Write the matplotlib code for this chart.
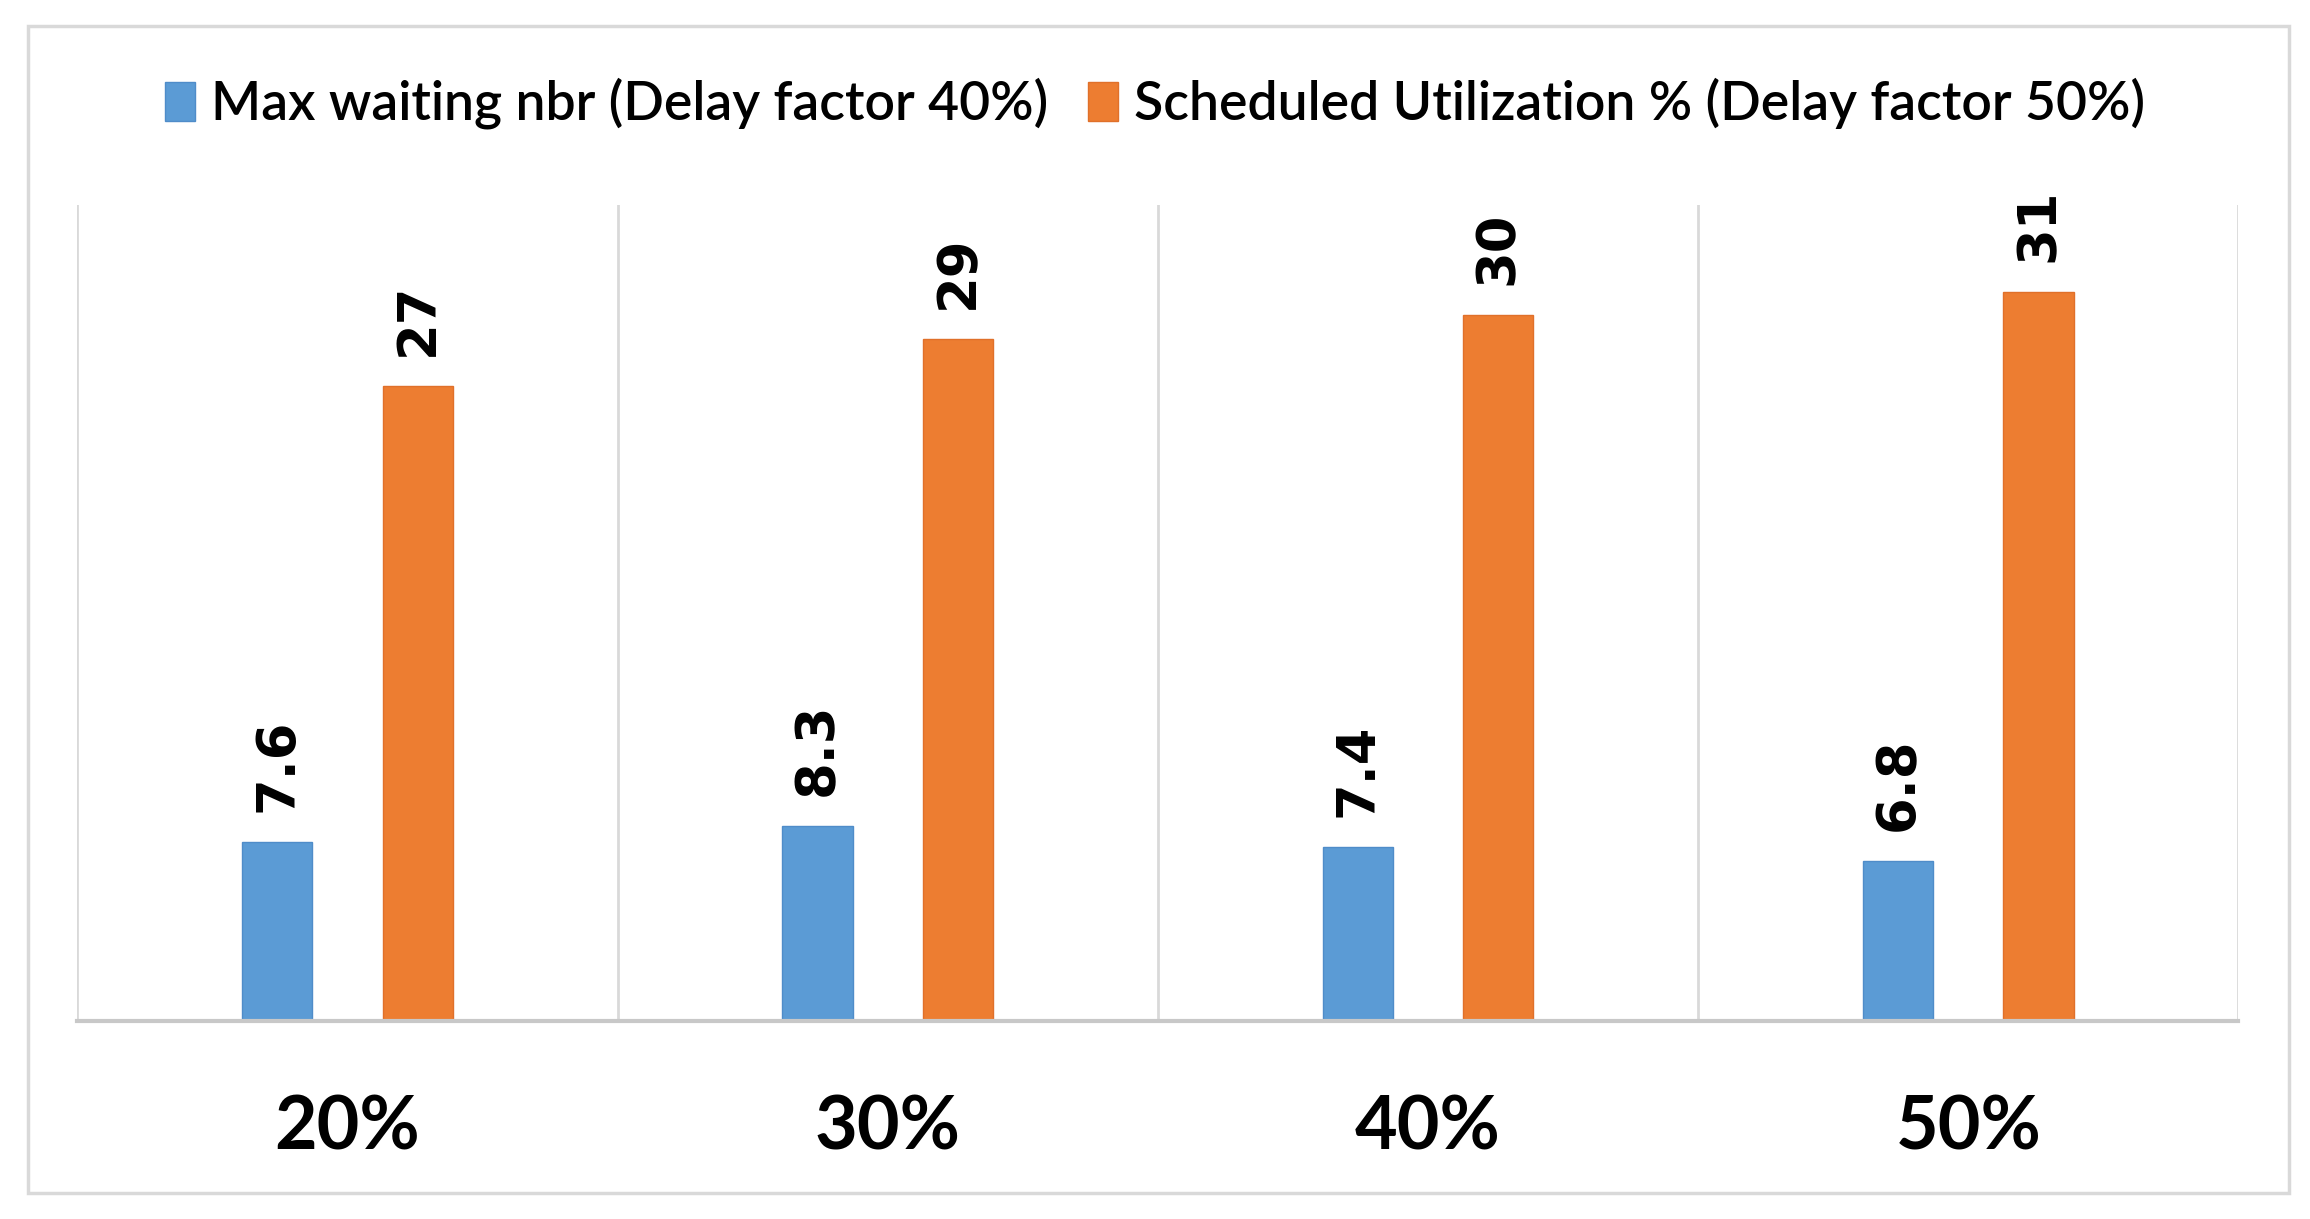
import matplotlib.pyplot as plt
import matplotlib as mpl
import numpy as np
from matplotlib.patches import Rectangle

categories = ['20%', '30%', '40%', '50%']
max_waiting = [7.6, 8.3, 7.4, 6.8]
sched_util = [27, 29, 30, 31]
labels = ['Max waiting nbr (Delay factor 40%)', 'Scheduled Utilization % (Delay factor 50%)']

blue = '#5B9BD5'
orange = '#ED7D31'

fig = plt.figure(figsize=(23.1, 12.19), dpi=100)
# outer chart border
fig.patches.append(Rectangle((0.012, 0.021), 0.979, 0.958, transform=fig.transFigure,
                             fill=False, edgecolor='#D9D9D9', linewidth=2.5))

ax = fig.add_axes([0.0335, 0.1624, 0.9355, 0.6696])
x = np.arange(len(categories))
w = 0.13
b1 = ax.bar(x - 0.13, max_waiting, w, color=blue, edgecolor='#4F8CC9', linewidth=1, label=labels[0])
b2 = ax.bar(x + 0.13, sched_util, w, color=orange, edgecolor='#E0702A', linewidth=1, label=labels[1])

for bars in (b1, b2):
    for rect in bars:
        h = rect.get_height()
        ax.annotate(f'{h:g}', (rect.get_x() + rect.get_width() / 2, h),
                    xytext=(0, 30), textcoords='offset pixels',
                    ha='center', va='bottom', rotation=90,
                    fontsize=38, fontweight='bold', family='DejaVu Sans')

ax.set_xlim(-0.5, 3.5)
ax.set_ylim(0, 34.7)
ax.set_yticks([])
ax.set_xticks(x)
ax.set_xticklabels(categories, fontsize=53, fontweight='bold', family='Lato')
ax.set_xticks(np.arange(-0.5, 4, 1), minor=True)
ax.tick_params(axis='x', which='major', length=0, pad=52)
ax.tick_params(axis='x', which='minor', length=0)
ax.grid(True, which='minor', axis='x', color='#D9D9D9', linewidth=2)
ax.set_axisbelow(True)
for s in ['top', 'left', 'right']:
    ax.spines[s].set_visible(False)
ax.spines['bottom'].set_color('#C8C8C8')
ax.spines['bottom'].set_linewidth(3)

fig.legend(handles=[b1, b2], loc='center', bbox_to_anchor=(0.5, 0.915), ncol=2,
           frameon=False, prop={'family': 'Lato', 'size': 38.5, 'weight': 'semibold'},
           handlelength=0.55, handleheight=0.75, handletextpad=0.3, columnspacing=0.75)

fig.savefig('out.png', dpi=100)
